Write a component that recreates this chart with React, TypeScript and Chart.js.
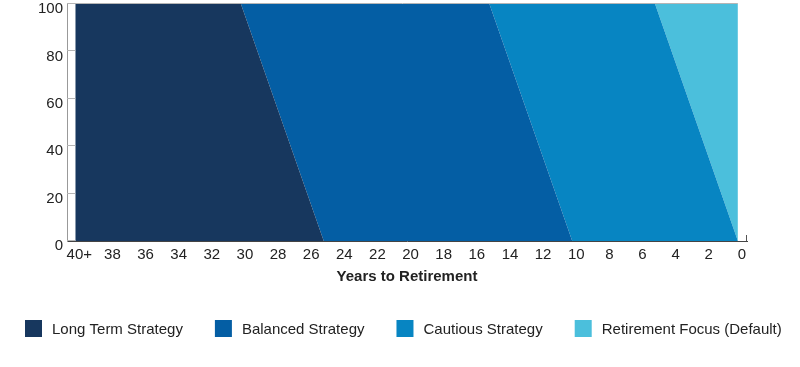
import React, { useEffect, useRef } from "react";
import { Chart, registerables } from "chart.js";

Chart.register(...registerables);

// Years to retirement (x) where the glide path changes
const years = [40, 30, 25, 15, 10, 5, 0];
const longTerm = [100, 100, 0, 0, 0, 0, 0];
const balanced = [0, 0, 100, 100, 0, 0, 0];
const cautious = [0, 0, 0, 0, 100, 100, 0];
const retirementFocus = [0, 0, 0, 0, 0, 0, 100];

const seriesNames = [
  "Long Term Strategy",
  "Balanced Strategy",
  "Cautious Strategy",
  "Retirement Focus (Default)",
];
const seriesColors = ["#17375E", "#045EA4", "#0785C2", "#4BBFDC"];

const xTickValues = [40, 38, 36, 34, 32, 30, 28, 26, 24, 22, 20, 18, 16, 14, 12, 10, 8, 6, 4, 2, 0];
const yTickValues = [0, 20, 40, 60, 80, 100];
const xTitle = "Years to Retirement";

const FONT = "'Liberation Sans', Arial, Helvetica, sans-serif";

const axisDecor = {
  id: "axisDecor",
  afterDatasetsDraw(chart: any) {
    const { ctx, chartArea, scales } = chart;
    const x = scales.x;
    const y = scales.y;
    const x40 = x.getPixelForValue(40);
    const x0 = x.getPixelForValue(0);
    ctx.save();
    ctx.lineWidth = 1;
    ctx.strokeStyle = "#b5b5b5";
    yTickValues.forEach((v) => {
      const py = Math.round(y.getPixelForValue(v)) - 0.5;
      ctx.beginPath();
      ctx.moveTo(chartArea.left, py);
      ctx.lineTo(v === 100 ? x0 : x40, py);
      ctx.stroke();
    });
    // right end tick on x axis
    ctx.strokeStyle = "#555";
    const rx = Math.round(chartArea.right) - 0.5;
    ctx.beginPath();
    ctx.moveTo(rx, chartArea.bottom);
    ctx.lineTo(rx, chartArea.bottom - 6);
    ctx.stroke();
    ctx.restore();
  },
};

// Single-row legend drawn below the chart
const legendRow = {
  id: "legendRow",
  afterDraw(chart: any) {
    const { ctx, width, height } = chart;
    const box = 17;
    const gapText = 10;
    const gapItem = 32;
    ctx.save();
    ctx.font = `15px ${FONT}`;
    const widths = seriesNames.map((n) => ctx.measureText(n).width);
    const total =
      widths.reduce((a, w) => a + box + gapText + w, 0) + gapItem * (seriesNames.length - 1);
    let x = Math.round((width - total) / 2 + 3);
    const cy = height - 38.5;
    ctx.textBaseline = "middle";
    ctx.textAlign = "left";
    seriesNames.forEach((name, i) => {
      ctx.fillStyle = seriesColors[i];
      ctx.fillRect(x, cy - box / 2, box, box);
      ctx.fillStyle = "#222";
      ctx.fillText(name, x + box + gapText, cy + 1);
      x += box + gapText + widths[i] + gapItem;
    });
    ctx.restore();
  },
};

export default function App() {
  const ref = useRef<HTMLCanvasElement | null>(null);

  useEffect(() => {
    if (!ref.current) return;
    Chart.defaults.font.family = FONT;
    const sets = [longTerm, balanced, cautious, retirementFocus];
    const chart = new Chart(ref.current, {
      type: "line",
      data: {
        datasets: sets.map((vals, i) => ({
          label: seriesNames[i],
          data: years.map((yr, k) => ({ x: yr, y: vals[k] })),
          backgroundColor: seriesColors[i],
          borderColor: seriesColors[i],
          borderWidth: 0,
          pointRadius: 0,
          tension: 0,
          fill: i === 0 ? "origin" : "-1",
        })),
      },
      options: {
        animation: false,
        responsive: true,
        maintainAspectRatio: false,
        layout: { padding: { left: 0, right: 0, top: 4, bottom: 81 } },
        plugins: {
          tooltip: { enabled: false },
          legend: { display: false },
        },
        scales: {
          x: {
            type: "linear",
            reverse: true,
            min: -0.55,
            max: 40.5,
            afterBuildTicks: (s: any) => {
              s.ticks = xTickValues.map((v) => ({ value: v }));
            },
            afterFit: (s: any) => {
              s.paddingLeft = 0;
              s.paddingRight = 0;
            },
            grid: { display: false, drawTicks: false },
            border: { display: true, color: "#444", width: 1 },
            ticks: {
              autoSkip: false,
              maxRotation: 0,
              labelOffset: 4,
              padding: 5,
              color: "#222",
              font: { size: 15, family: FONT },
              callback: (v: any) => (v === 40 ? "40+" : String(v)),
            },
            title: {
              display: true,
              text: xTitle,
              color: "#222",
              font: { size: 15, weight: "bold", family: FONT },
              padding: { top: -1, bottom: 0 },
            },
          },
          y: {
            stacked: true,
            min: 0,
            max: 100,
            afterBuildTicks: (s: any) => {
              s.ticks = yTickValues.map((v) => ({ value: v }));
            },
            afterFit: (s: any) => {
              s.width = 67;
              s.paddingTop = 0;
              s.paddingBottom = 0;
            },
            grid: { display: false, drawTicks: false },
            border: { display: true, color: "#999", width: 1 },
            ticks: {
              padding: 4,
              labelOffset: 5,
              color: "#222",
              font: { size: 15, family: FONT },
            },
          },
          yRight: {
            position: "right",
            display: true,
            afterFit: (s: any) => {
              s.width = 53;
            },
            grid: { display: false, drawTicks: false },
            border: { display: false },
            ticks: { display: false },
          },
        },
      },
      plugins: [axisDecor, legendRow],
    });
    return () => chart.destroy();
  }, []);

  return (
    <div style={{ position: "absolute", left: 0, top: 0, width: 800, height: 367 }}>
      <canvas ref={ref} />
    </div>
  );
}
